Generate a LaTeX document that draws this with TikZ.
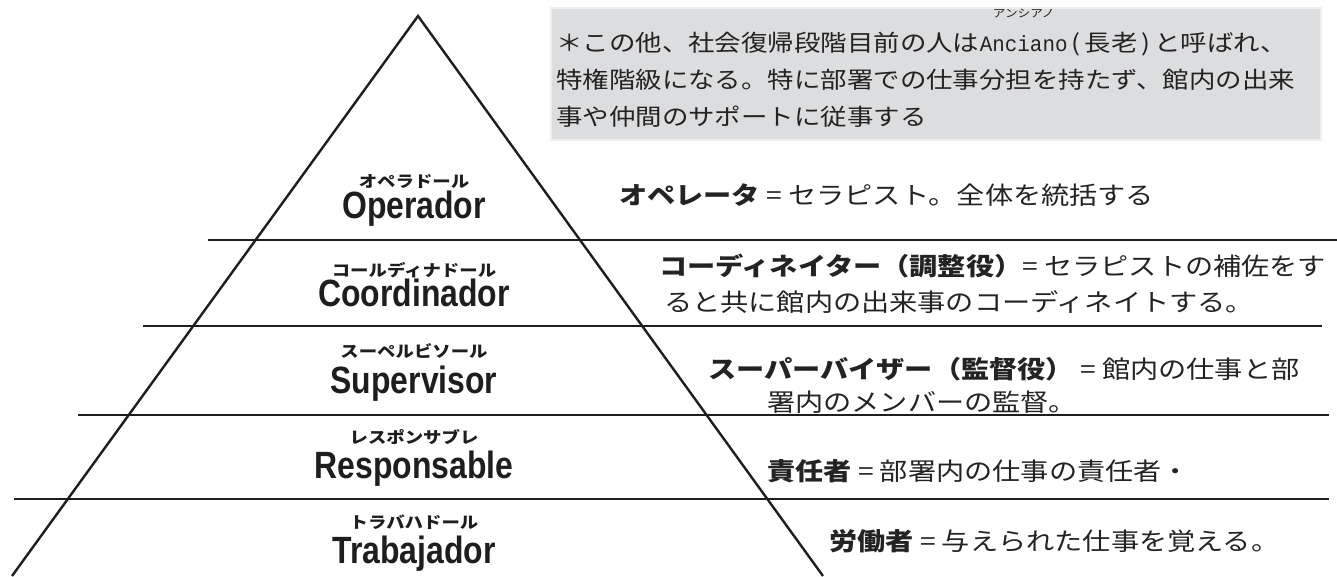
\documentclass[tikz,border=0pt]{standalone}
\usepackage{fontspec}
\setmainfont{Noto Sans CJK JP}
\newfontfamily\namefont[FakeStretch=0.84]{Liberation Sans}
\newfontfamily\ancfont[FakeStretch=0.95]{Liberation Mono}
\newfontfamily\descfont[FakeStretch=1.15]{Noto Sans CJK JP}
\newfontfamily\boxfont[FakeStretch=1.15]{Noto Sans CJK JP}
\newfontfamily\kanafont[FakeStretch=1.15]{Noto Sans CJK JP}
\definecolor{boxfill}{RGB}{220,221,223}
\definecolor{boxedge}{RGB}{238,238,238}
\definecolor{ink}{RGB}{30,30,30}
\definecolor{txt}{RGB}{35,35,35}
\tikzset{
  rule/.style={draw=ink, line width=2.8pt},
  pyr/.style={draw=ink, line width=2.4pt, line join=miter},
  rolename/.style={inner sep=0pt, anchor=base, font=\namefont\bfseries\fontsize{38}{38}\selectfont, text=ink},
  rolekana/.style={inner sep=0pt, anchor=center, font=\kanafont\bfseries\fontsize{16}{16}\selectfont, text=ink},
  desc/.style={inner sep=0pt, anchor=west, font=\descfont\fontsize{24.5}{24.5}\selectfont, text=txt},
  boxtxt/.style={inner sep=0pt, anchor=base west, font=\boxfont\fontsize{23}{23}\selectfont, text=txt},
}
\begin{document}
\begin{tikzpicture}[x=1pt,y=-1pt]
\useasboundingbox (0,0) rectangle (1337,576);
% note box
\draw[fill=boxfill, draw=boxedge, line width=2pt] (551,8) rectangle (1321,140);
\node[boxtxt] (b1a) at (556,51) {＊この他、社会復帰段階目前の人は};
\node[boxtxt, font=\ancfont\fontsize{22}{22}\selectfont] (anc) at (b1a.base east) {Anciano};
\node[boxtxt] (b1b) at (anc.base east) {\,(\,長老\,)\,と呼ばれ、};
\node[inner sep=0pt, font=\kanafont\fontsize{11}{11}\selectfont, text=txt] (ruby) at (anc.center |- 0,13) {アンシアノ};
\node[boxtxt] (b2) at (556,88) {特権階級になる。特に部署での仕事分担を持たず、館内の出来};
\node[boxtxt] (b3) at (556,125) {事や仲間のサポートに従事する};
% pyramid
\coordinate (apex) at (418,16);
\coordinate (bl) at (12,576);
\coordinate (br) at (823,576);
\draw[pyr] (bl) -- (apex) -- (br);
\coordinate (l1a) at (208,240); \coordinate (l1b) at (1337,240);
\coordinate (l2a) at (143,326); \coordinate (l2b) at (1322,326);
\coordinate (l3a) at (78,415);  \coordinate (l3b) at (1329,415);
\coordinate (l4a) at (14,499);  \coordinate (l4b) at (1329,499);
\draw[rule] (l1a) -- (l1b);
\draw[rule] (l2a) -- (l2b);
\draw[rule] (l3a) -- (l3b);
\draw[rule] (l4a) -- (l4b);
% role names
\node[rolekana] (k1) at (414,182) {オペラドール};
\node[rolename] (n1) at (414,218) {Operador};
\node[rolekana] (k2) at (414,270) {コールディナドール};
\node[rolename] (n2) at (414,306) {Coordinador};
\node[rolekana] (k3) at (414,351) {スーペルビソール};
\node[rolename] (n3) at (414,393) {Supervisor};
\node[rolekana] (k4) at (414,437) {レスポンサブレ};
\node[rolename] (n4) at (414,478) {Responsable};
\node[rolekana] (k5) at (414,522) {トラバハドール};
\node[rolename] (n5) at (414,563) {Trabajador};
% descriptions
\node[desc] (d1) at (619,195) {{\bfseries オペレータ} = セラピスト。全体を統括する};
\node[desc] (d2a) at (659,266) {{\bfseries コーディネイター（調整役）}= セラピストの補佐をす};
\node[desc] (d2b) at (664,302) {ると共に館内の出来事のコーディネイトする。};
\node[desc] (d3a) at (708,369) {{\bfseries スーパーバイザー（監督役）}\ = 館内の仕事と部};
\node[desc] (d3b) at (767,402) {署内のメンバーの監督。};
\node[desc] (d4) at (767,471) {{\bfseries 責任者}\ =\ 部署内の仕事の責任者・};
\node[desc] (d5) at (829,541) {{\bfseries 労働者} = 与えられた仕事を覚える。};
\end{tikzpicture}
\end{document}
